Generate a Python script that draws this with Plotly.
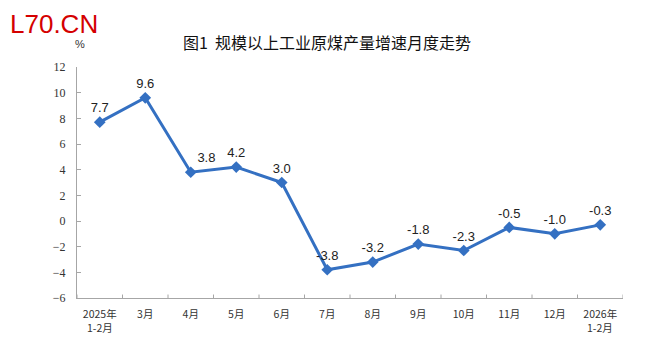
import plotly.graph_objects as go

categories = ["2025年", "3月", "4月", "5月", "6月", "7月", "8月", "9月", "10月", "11月", "12月", "2026年"]
categories_line2 = ["1-2月", "", "", "", "", "", "", "", "", "", "", "1-2月"]
values = [7.7, 9.6, 3.8, 4.2, 3.0, -3.8, -3.2, -1.8, -2.3, -0.5, -1.0, -0.3]
labels = [f"{v:.1f}" for v in values]
label_pos = ["top center", "top center", "top right", "top center", "top center", "top center",
             "top center", "top center", "top center", "top center", "top center", "top center"]
y_ticks = [-6, -4, -2, 0, 2, 4, 6, 8, 10, 12]

blue = "#3470C2"
xs = list(range(len(categories)))

fig = go.Figure()
fig.add_trace(go.Scatter(
    x=xs, y=values,
    mode="lines+markers+text",
    line=dict(color=blue, width=3),
    marker=dict(symbol="diamond", size=9, color=blue),
    text=labels, textposition=label_pos,
    textfont=dict(family="Liberation Sans, Arial", size=13, color="#222222"),
    cliponaxis=False, hoverinfo="skip",
))

fig.update_layout(
    width=657, height=352,
    margin=dict(l=69, r=42, t=59, b=62),
    paper_bgcolor="white", plot_bgcolor="white",
    showlegend=False,
    xaxis=dict(
        tickmode="array", tickvals=xs, ticktext=categories,
        range=[-0.5, 11.5], showgrid=False, zeroline=False,
        showline=True, linecolor="#A6A6A6", linewidth=1,
        ticks="", ticklabelstandoff=6,
        tickfont=dict(family="Noto Sans CJK SC", size=10.5, color="#333333"),
    ),
    yaxis=dict(
        range=[-6, 12], tickvals=y_ticks, showgrid=False, zeroline=False,
        showline=True, linecolor="#A6A6A6", linewidth=1,
        ticks="inside", ticklen=4, tickcolor="#A6A6A6", ticklabelstandoff=8,
        tickfont=dict(family="Liberation Serif, Times New Roman", size=12, color="#333333"),
    ),
)

# second line of the two-line category labels
for x, t in zip(xs, categories_line2):
    if t:
        fig.add_annotation(text=t, xref="x", yref="paper", x=x, y=0, yshift=-29,
                           xanchor="center", yanchor="middle", showarrow=False,
                           font=dict(family="Noto Sans CJK SC", size=10.5, color="#333333"))

# boundary ticks on x axis (inside, pointing up)
for i in range(len(categories) + 1):
    fig.add_shape(type="line", xref="x", yref="paper",
                  x0=i - 0.5, x1=i - 0.5, y0=0, y1=0.015,
                  line=dict(color="#A6A6A6", width=1))

fig.add_annotation(text="图1  规模以上工业原煤产量增速月度走势", xref="paper", yref="paper",
                   x=0.458, y=1.0, yshift=25, xanchor="center", yanchor="middle", showarrow=False,
                   font=dict(family="Noto Sans CJK SC", size=16, color="#111111"))
fig.add_annotation(text="%", xref="paper", yref="paper", x=0.0, y=1.0, yshift=23, xshift=3,
                   xanchor="center", yanchor="middle", showarrow=False,
                   font=dict(family="Liberation Sans", size=11, color="#333333"))
fig.add_annotation(text="L70.CN", xref="paper", yref="paper", x=-69/546, y=1.0, yshift=59,
                   xanchor="left", yanchor="top", showarrow=False, xshift=1, borderpad=0,
                   font=dict(family="Liberation Sans", size=26, color="#D40000"))

fig.write_html("out.html")
